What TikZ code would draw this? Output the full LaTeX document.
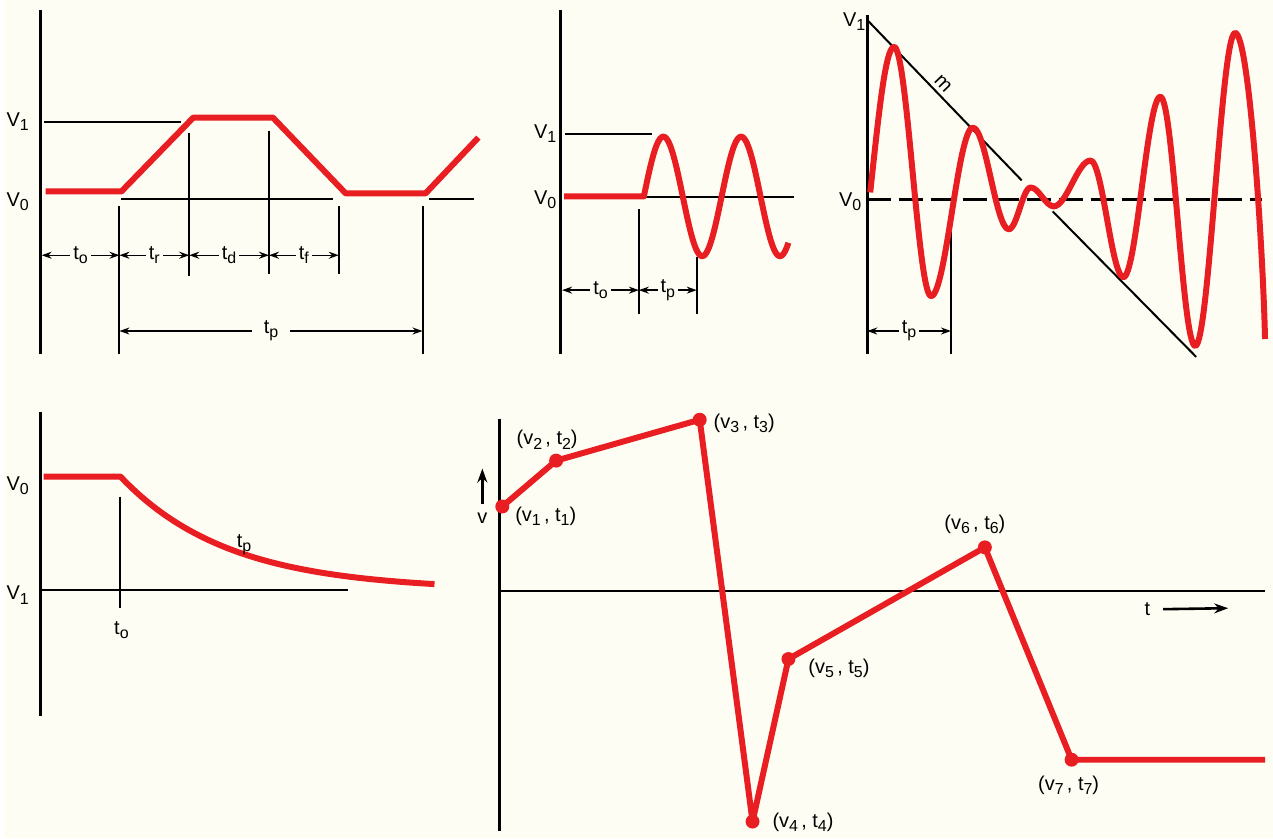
\documentclass[tikz,border=0pt]{standalone}
\usepackage{fontspec}
\setmainfont{Liberation Sans}
\usetikzlibrary{arrows.meta,positioning,calc}
\definecolor{paper}{RGB}{253,253,243}
\definecolor{trace}{RGB}{232,30,34}
\newcommand{\lab}[2]{#1\raisebox{-0.4ex}{\footnotesize #2}}
\newcommand{\vt}[1]{(v\raisebox{-0.4ex}{\footnotesize #1}\,, t\raisebox{-0.4ex}{\footnotesize #1})}

\begin{document}
\begin{tikzpicture}[x=0.5pt,y=-0.5pt,font=\normalsize,
  axis/.style={line width=1.6pt},
  guide/.style={line width=1pt},
  wave/.style={trace,line width=3pt,line join=round},
  dim/.style={line width=0.7pt,{Stealth[length=5pt,width=3.5pt]}-{Stealth[length=5pt,width=3.5pt]}},
  dimlab/.style={fill=paper,inner sep=1.5pt,font=\normalsize},
  dot/.style={circle,fill=trace,inner sep=0pt,minimum size=7pt},
  ptlab/.style={font=\normalsize}]
  \fill[paper] (0,0) rectangle (1273,840);

  % trapezoid pulse
  \draw[axis] (37,10) -- (37,355);
  \node (p1v1) at (14,122) {\lab{V}{1}};
  \node (p1v0) at (14,202) {\lab{V}{0}};
  \draw[guide] (40,122) -- (178,122);
  \draw[guide] (118,200) -- (330,200);
  \draw[guide] (426,200) -- (472,200);
  \draw[guide] (116,207) -- (116,355);
  \draw[guide] (186,133) -- (186,277);
  \draw[guide] (266,131) -- (266,275);
  \draw[guide] (336,207) -- (336,275);
  \draw[guide] (420,207) -- (420,355);
  \draw[wave] (42,192) -- (118,192) -- (190,118) -- (270,118) -- (343,194) -- (423,194) -- (476,138);
  \draw[dim] (38,256) -- node[dimlab] {\lab{t}{o}} (116,256);
  \draw[dim] (116,256) -- node[dimlab] {\lab{t}{r}} (186,256);
  \draw[dim] (186,256) -- node[dimlab] {\lab{t}{d}} (266,256);
  \draw[dim] (266,256) -- node[dimlab] {\lab{t}{f}} (336,256);
  \draw[dim] (116,332) -- node[dimlab,inner xsep=6pt] {\lab{t}{p}} (420,332);

  % sine burst
  \draw[axis] (558,10) -- (558,355);
  \node (p2v1) at (543,134) {\lab{V}{1}};
  \node (p2v0) at (543,200) {\lab{V}{0}};
  \draw[guide] (563,134) -- (650,134);
  \draw[guide] (637,198) -- (793,198);
  \draw[guide] (637,210) -- (637,315);
  \draw[guide] (695,258) -- (695,315);
  \draw[wave] (562,197) -- (642,197)
    -- plot[domain=642:787,samples=90] (\x,{197-60*sin((\x-642)*4.6154)});
  \draw[dim] (560,291) -- node[dimlab] {\lab{t}{o}} (637,291);
  \draw[dim] (637,291) -- node[dimlab] {\lab{t}{p}} (695,291);

  % damped then growing sine
  \draw[axis] (866,15) -- (866,355);
  \node (p3v1) at (853,22) {\lab{V}{1}};
  \node (p3v0) at (849,202) {\lab{V}{0}};
  \draw[line width=1.4pt,dash pattern=on 12pt off 4pt] (866,200) -- (1262,200);
  \draw[guide] (866,20) -- (1021,181);
  \draw[guide] (1052,212) -- (1196,358);
  \node[rotate=-46] (slope) at (942,84) {m};
  \draw[guide] (950,217) -- (950,355);
  \draw[dim] (866,332) -- node[dimlab] {\lab{t}{p}} (950,332);
  \draw[wave] (869,193) .. controls (877,120) and (884,47) .. (893,47)
    .. controls (906,47) and (917,297) .. (930,297)
    .. controls (945,297) and (957,128) .. (972,128)
    .. controls (985,128) and (995,230) .. (1008,230)
    .. controls (1016,230) and (1022,188) .. (1030,188)
    .. controls (1038,188) and (1045,207) .. (1053,207)
    .. controls (1066,207) and (1077,161) .. (1090,161)
    .. controls (1102,161) and (1111,278) .. (1123,278)
    .. controls (1136,278) and (1147,97) .. (1160,97)
    .. controls (1173,97) and (1182,347) .. (1195,347)
    .. controls (1209,347) and (1221,33) .. (1235,33)
    .. controls (1249,33) and (1263,250) .. (1265,340);

  % exponential decay
  \draw[axis] (37,413) -- (37,718);
  \node (p4v0) at (14,487) {\lab{V}{0}};
  \node (p4v1) at (14,597) {\lab{V}{1}};
  \draw[guide] (37,592) -- (345,592);
  \draw[guide] (117,498) -- (117,610);
  \node (p4t0) at (118,632) {\lab{t}{o}};
  \draw[wave] (40,478) -- (117,478)
    -- plot[domain=117:432,samples=60] (\x,{592-114*exp(-(\x-117)/108)});
  \node (p4tp) at (241,546) {\lab{t}{p}};

  % piecewise linear
  \draw[axis] (497,420) -- (497,833);
  \draw[guide] (497,593) -- (1265,593);
  \node[dot] (q1) at (500,508) {};
  \node[dot] (q2) at (554,462) {};
  \node[dot] (q3) at (698,421) {};
  \node[dot] (q4) at (751,824) {};
  \node[dot] (q5) at (787,661) {};
  \node[dot] (q6) at (984,549) {};
  \node[dot] (q7) at (1071,762) {};
  \coordinate (qend) at (1265,762);
  \draw[wave] (q1.center) -- (q2.center) -- (q3.center) -- (q4.center)
    -- (q5.center) -- (q6.center) -- (q7.center) -- (qend);
  \node[ptlab,anchor=west] at (506,518) {\vt{1}};
  \node[ptlab] at (545,441) {\vt{2}};
  \node[ptlab,anchor=west] at (705,425) {\vt{3}};
  \node[ptlab,anchor=west] at (764,825) {\vt{4}};
  \node[ptlab,anchor=west] at (800,670) {\vt{5}};
  \node[ptlab] at (974,526) {\vt{6}};
  \node[ptlab] at (1068,788) {\vt{7}};
  \node (vaxis) at (480,520) {v};
  \coordinate (vtip) at (480,470);
  \draw[line width=1.3pt,-{Stealth[length=7pt,width=5pt]}] (vaxis.north) ++(0,-2) -- (vtip);
  \node (taxis) at (1147,611) {t};
  \coordinate (ttip) at (1228,610);
  \draw[line width=1.3pt,-{Stealth[length=7pt,width=5pt]}] (taxis.east) ++(6,0) -- (ttip);
\end{tikzpicture}
\end{document}
